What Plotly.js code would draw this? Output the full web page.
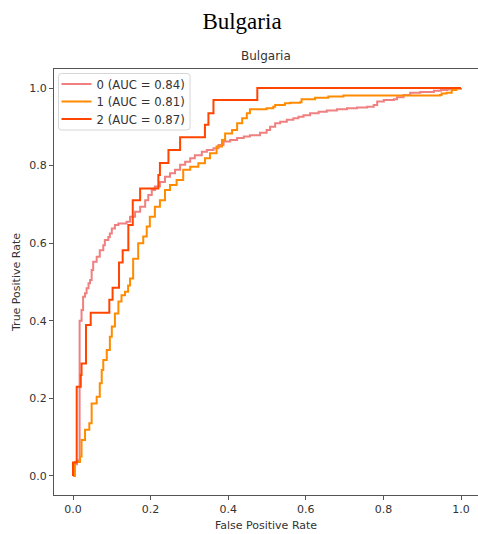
<!DOCTYPE html>
<html>
<head>
<meta charset="utf-8">
<script src="https://cdn.plot.ly/plotly-3.0.1.min.js"></script>
<style>html,body{margin:0;padding:0;overflow:hidden;background:#fff}</style>
</head>
<body>
<div id="chart" style="width:478px;height:534px"></div>
<script>
// Class 0 (AUC = 0.84)
const fpr0 = [0, 0, 0.010, 0.017, 0.017, 0.022, 0.026, 0.031, 0.035, 0.040, 0.044, 0.048, 0.052, 0.061, 0.069, 0.078, 0.082, 0.091, 0.095, 0.100, 0.108, 0.117, 0.138, 0.147, 0.160, 0.173, 0.186, 0.194, 0.203, 0.211, 0.224, 0.237, 0.250, 0.263, 0.276, 0.289, 0.302, 0.314, 0.332, 0.345, 0.362, 0.375, 0.388, 0.405, 0.423, 0.440, 0.456, 0.482, 0.499, 0.508, 0.521, 0.534, 0.551, 0.568, 0.581, 0.594, 0.611, 0.633, 0.654, 0.680, 0.706, 0.732, 0.758, 0.775, 0.784, 0.801, 0.827, 0.835, 0.852, 0.869, 0.895, 0.930, 0.948, 0.965, 0.982, 1.0];
const tpr0 = [0, 0.030, 0.040, 0.040, 0.400, 0.428, 0.462, 0.471, 0.484, 0.497, 0.505, 0.531, 0.552, 0.565, 0.582, 0.595, 0.608, 0.616, 0.625, 0.638, 0.647, 0.651, 0.655, 0.668, 0.681, 0.694, 0.711, 0.724, 0.737, 0.746, 0.758, 0.771, 0.780, 0.789, 0.802, 0.810, 0.819, 0.827, 0.836, 0.840, 0.845, 0.853, 0.862, 0.866, 0.871, 0.875, 0.878, 0.885, 0.892, 0.900, 0.909, 0.913, 0.918, 0.922, 0.926, 0.930, 0.935, 0.939, 0.942, 0.945, 0.948, 0.950, 0.952, 0.956, 0.965, 0.969, 0.971, 0.976, 0.982, 0.988, 0.990, 0.993, 0.995, 0.997, 0.999, 1.0];

// Class 1 (AUC = 0.81)
const fpr1 = [0, 0.005, 0.018, 0.022, 0.031, 0.042, 0.048, 0.061, 0.069, 0.074, 0.078, 0.087, 0.095, 0.100, 0.108, 0.117, 0.125, 0.134, 0.142, 0.147, 0.155, 0.168, 0.181, 0.190, 0.198, 0.211, 0.224, 0.237, 0.250, 0.267, 0.284, 0.302, 0.323, 0.340, 0.353, 0.370, 0.384, 0.392, 0.410, 0.423, 0.436, 0.448, 0.456, 0.460, 0.499, 0.516, 0.521, 0.546, 0.559, 0.585, 0.589, 0.624, 0.658, 0.697, 0.946, 0.950, 0.963, 0.976, 0.988, 1.0];
const tpr1 = [0, 0.036, 0.050, 0.093, 0.119, 0.136, 0.187, 0.204, 0.239, 0.273, 0.299, 0.325, 0.359, 0.385, 0.419, 0.450, 0.466, 0.475, 0.491, 0.509, 0.560, 0.600, 0.617, 0.643, 0.668, 0.694, 0.711, 0.737, 0.750, 0.763, 0.789, 0.797, 0.806, 0.819, 0.832, 0.849, 0.866, 0.883, 0.892, 0.909, 0.922, 0.935, 0.945, 0.945, 0.948, 0.952, 0.956, 0.961, 0.962, 0.963, 0.971, 0.975, 0.978, 0.981, 0.982, 0.986, 0.988, 0.995, 0.999, 1.0];

// Class 2 (AUC = 0.87)
const fpr2 = [0, 0, 0.0095, 0.020, 0.022, 0.0335, 0.0456, 0.0936, 0.102, 0.1186, 0.128, 0.1426, 0.154, 0.173, 0.220, 0.224, 0.246, 0.276, 0.340, 0.349, 0.362, 0.475, 1.0];
const tpr2 = [0, 0.035, 0.230, 0.260, 0.290, 0.389, 0.421, 0.454, 0.485, 0.550, 0.582, 0.647, 0.711, 0.741, 0.776, 0.807, 0.840, 0.873, 0.905, 0.935, 0.969, 1.0, 1.0];

const labels = ['0 (AUC = 0.84)', '1 (AUC = 0.81)', '2 (AUC = 0.87)'];
const colors = ['#F08080', '#FF8C00', '#FF4500'];
const legendIds = ['legend', 'legend2', 'legend3'];

const series = [[fpr0, tpr0], [fpr1, tpr1], [fpr2, tpr2]];
const data = series.map((s, i) => ({
  x: s[0], y: s[1], type: 'scatter', mode: 'lines', name: labels[i], legend: legendIds[i],
  line: {color: colors[i], width: 2, shape: 'hv'}
}));

// plot area in pixels
const L = 54, T = 69, W = 424, H = 426;
const px = v => (v - L) / W, py = v => (T + H - v) / H;
// legend frame
const bx0 = 58.5, bx1 = 190, by0 = 73.5, by1 = 130, r = 3;
const framePath = `M ${px(bx0 + r)} ${py(by0)} L ${px(bx1 - r)} ${py(by0)} Q ${px(bx1)} ${py(by0)} ${px(bx1)} ${py(by0 + r)} ` +
  `L ${px(bx1)} ${py(by1 - r)} Q ${px(bx1)} ${py(by1)} ${px(bx1 - r)} ${py(by1)} L ${px(bx0 + r)} ${py(by1)} ` +
  `Q ${px(bx0)} ${py(by1)} ${px(bx0)} ${py(by1 - r)} L ${px(bx0)} ${py(by0 + r)} Q ${px(bx0)} ${py(by0)} ${px(bx0 + r)} ${py(by0)} Z`;

const legFont = {family: 'DejaVu Sans', size: 11.7, color: '#333'};
const entryY = [84, 101.5, 119];
const mkLegend = y => ({x: px(56.5), y: py(y), xanchor: 'left', yanchor: 'middle', bgcolor: 'rgba(0,0,0,0)',
                        borderwidth: 0, font: legFont});

const tickFont = {family: 'DejaVu Sans', size: 11, color: '#333'};
const layout = {
  width: 478, height: 534,
  margin: {l: L, r: 0, t: T, b: 534 - T - H, pad: 0},
  paper_bgcolor: '#fff', plot_bgcolor: '#fff',
  showlegend: true,
  title: {text: 'Bulgaria', font: {family: 'Liberation Serif', size: 23, color: '#000'},
          x: 242/478, xref: 'container', xanchor: 'center', y: 1 - 21/534, yref: 'container', yanchor: 'middle'},
  annotations: [{text: 'Bulgaria', xref: 'paper', yref: 'paper', x: 0.5, y: 1, xanchor: 'center', yanchor: 'bottom',
                 yshift: 4, showarrow: false, font: {family: 'DejaVu Sans', size: 12, color: '#333'}}],
  shapes: [{type: 'path', xref: 'paper', yref: 'paper', path: framePath,
            line: {color: '#d6d6d6', width: 1}, fillcolor: 'rgba(255,255,255,0.8)', layer: 'above'}],
  xaxis: {range: [-0.049, 1.0438], tickvals: [0, 0.2, 0.4, 0.6, 0.8, 1.0], ticktext: ['0.0','0.2','0.4','0.6','0.8','1.0'],
          ticks: 'outside', ticklen: 4, tickcolor: '#555', tickfont: tickFont,
          showgrid: false, zeroline: false, showline: true, linecolor: '#555', linewidth: 1, mirror: true,
          title: {text: 'False Positive Rate', font: {family: 'DejaVu Sans', size: 11, color: '#333'}, standoff: 6}},
  yaxis: {range: [-0.049, 1.049], tickvals: [0, 0.2, 0.4, 0.6, 0.8, 1.0], ticktext: ['0.0','0.2','0.4','0.6','0.8','1.0'],
          ticks: 'outside', ticklen: 4, tickcolor: '#555', tickfont: tickFont,
          showgrid: false, zeroline: false, showline: true, linecolor: '#555', linewidth: 1, mirror: false,
          title: {text: 'True Positive Rate', font: {family: 'DejaVu Sans', size: 11, color: '#333'}, standoff: 6}},
  legend: mkLegend(entryY[0]),
  legend2: mkLegend(entryY[1]),
  legend3: mkLegend(entryY[2])
};

Plotly.newPlot('chart', data, layout, {displayModeBar: false, staticPlot: true});
</script>
</body>
</html>
